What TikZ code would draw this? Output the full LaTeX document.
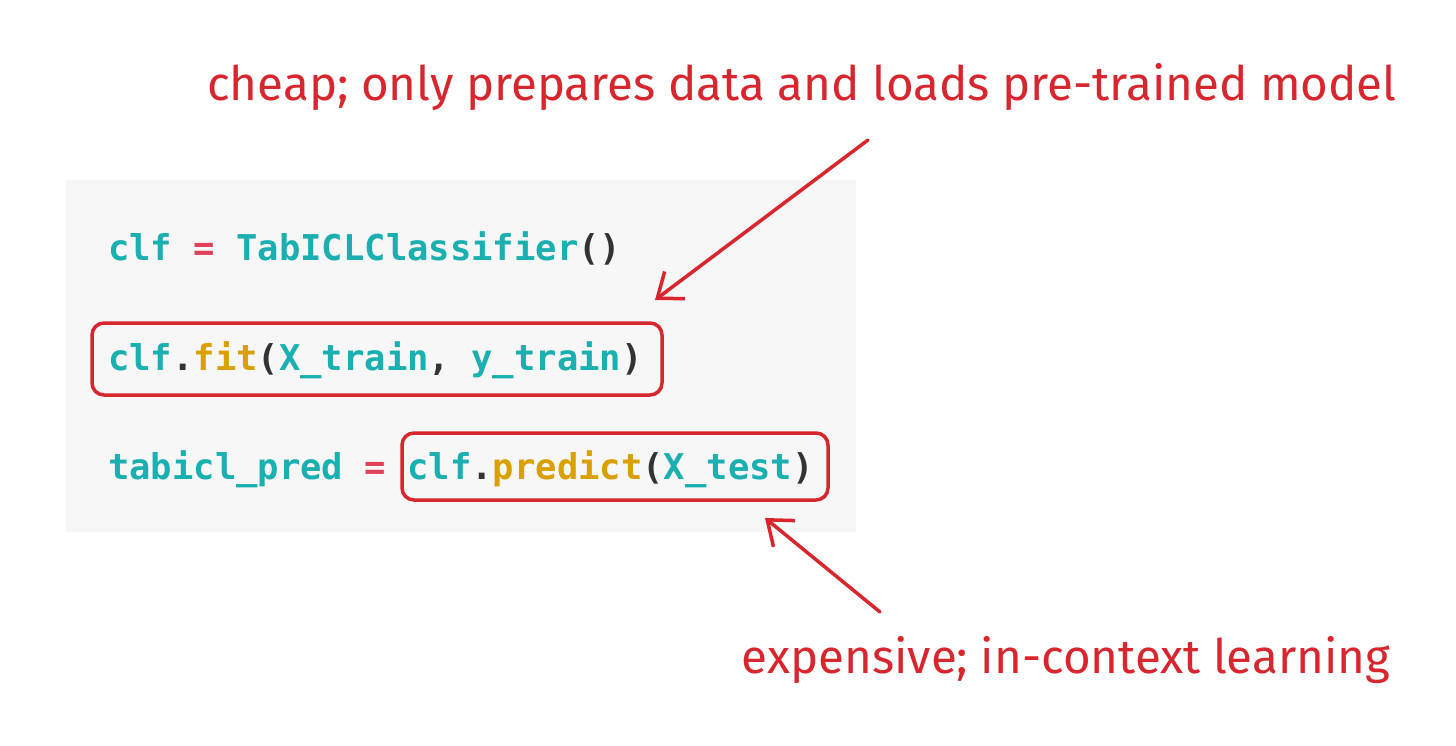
\documentclass[tikz,border=0pt]{standalone}
\usepackage{fontspec}
\setmonofont{DejaVu Sans Mono}
\newfontfamily\hand{Fira Sans}
\usetikzlibrary{arrows.meta}
\definecolor{teal}{HTML}{1AAFB0}
\definecolor{eqred}{HTML}{E0405A}
\definecolor{gold}{HTML}{D9A000}
\definecolor{dk}{HTML}{333333}
\definecolor{ann}{HTML}{D8262E}
\begin{document}
\begin{tikzpicture}[x=1pt,y=-1pt,
 code/.style={anchor=base west,inner sep=0,font=\ttfamily\bfseries\fontsize{35.5}{35.5}\selectfont,text=teal},
 hl/.style={draw=ann,line width=3.5pt,rounded corners=12pt},
 note/.style={text=ann,font=\hand\fontsize{47.5}{47.5}\selectfont,inner sep=0},
 arr/.style={draw=ann,line width=3.5pt,line cap=round,-{Straight Barb[length=22pt,width=34pt,line width=3.5pt]}}]
\useasboundingbox (0,0) rectangle (1456,745);
\fill[fill=black!3] (66,180) rectangle (856,532);
\node[code] (l1) at (108,260) {clf \textcolor{eqred}{=} TabICLClassifier\textcolor{dk}{()}};
\node[code] (l2) at (108,370) {clf\textcolor{dk}{.}\textcolor{gold}{fit}\textcolor{dk}{(}X\_train\textcolor{dk}{,} y\_train\textcolor{dk}{)}};
\node[code] (l3) at (108,479) {tabicl\_pred \textcolor{eqred}{=} clf\textcolor{dk}{.}\textcolor{gold}{predict}\textcolor{dk}{(}X\_test\textcolor{dk}{)}};
\draw[hl] (92,323) rectangle (662,395);
\draw[hl] (402,433) rectangle (828,500);
\node[note] (n1) at (802,87) {cheap; only prepares data and loads pre-trained model};
\node[note] (n2) at (1066,660) {expensive; in-context learning};
\coordinate (a1s) at (868,140); \coordinate (a1e) at (655,300);
\coordinate (a2s) at (880,612); \coordinate (a2e) at (765,518);
\draw[arr] (a1s) -- (a1e);
\draw[arr] (a2s) -- (a2e);
\end{tikzpicture}
\end{document}
